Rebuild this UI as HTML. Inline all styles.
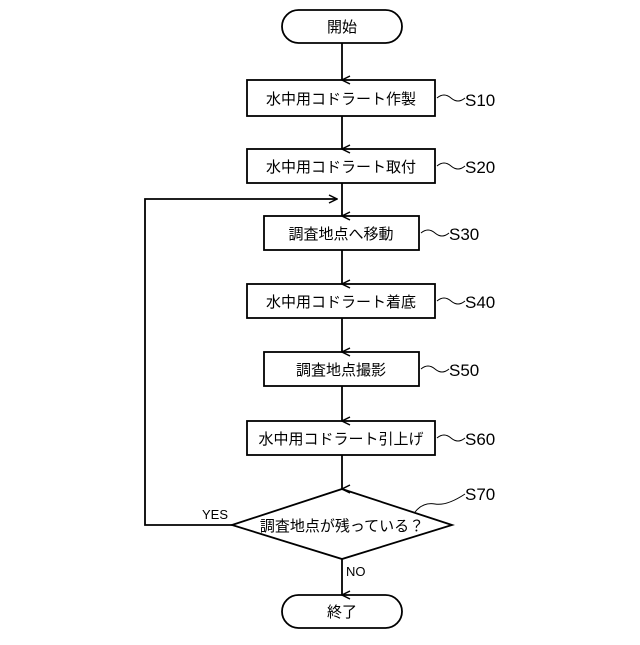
<!DOCTYPE html>
<html><head><meta charset="utf-8"><style>
html,body{margin:0;padding:0;background:#fff;}
svg text{font-family:"Liberation Sans","Noto Sans CJK JP",sans-serif;fill:#000;}
</style></head><body>
<svg width="640" height="640" viewBox="0 0 640 640" xmlns="http://www.w3.org/2000/svg">
<defs><marker id="a" markerWidth="10" markerHeight="10" refX="5" refY="9" orient="auto" markerUnits="userSpaceOnUse">
<path d="M1,1 L5,9 L9,1" fill="none" stroke="#000" stroke-width="1.5"/></marker>
<marker id="b" markerWidth="10" markerHeight="10" refX="9" refY="5" orient="auto-start-reverse" markerUnits="userSpaceOnUse">
<path d="M1,1 L9,5 L1,9" fill="none" stroke="#000" stroke-width="1.5"/></marker></defs>
<g stroke="#000" stroke-width="1.8" fill="none">
<rect x="282" y="10" width="120" height="33" rx="16.5"/>
<rect x="247" y="80" width="188" height="36"/>
<rect x="247" y="149" width="188" height="34"/>
<rect x="264" y="216" width="155" height="34"/>
<rect x="247" y="284" width="188" height="34"/>
<rect x="264" y="352" width="155" height="34"/>
<rect x="247" y="421" width="188" height="34"/>
<path d="M342,489 L452,525 L342,559 L232,525 Z"/>
<rect x="282" y="595" width="120" height="33" rx="16.5"/>
<g marker-end="url(#a)">
<line x1="342" y1="43" x2="342" y2="80"/>
<line x1="342" y1="116" x2="342" y2="149"/>
<line x1="342" y1="183" x2="342" y2="216"/>
<line x1="342" y1="250" x2="342" y2="284"/>
<line x1="342" y1="318" x2="342" y2="352"/>
<line x1="342" y1="386" x2="342" y2="421"/>
<line x1="342" y1="455" x2="342" y2="489"/>
<line x1="342" y1="559" x2="342" y2="595"/>
</g>
<polyline points="232,525 145,525 145,199 337,199" marker-end="url(#b)"/>
<g stroke-width="1">
<path d="M437,98 q7,-6 14,0 t14,0"/>
<path d="M437,166 q7,-6 14,0 t14,0"/>
<path d="M421,233 q7,-6 14,0 t14,0"/>
<path d="M437,301 q7,-6 14,0 t14,0"/>
<path d="M421,369 q7,-6 14,0 t14,0"/>
<path d="M437,438 q7,-6 14,0 t14,0"/>
<path d="M415,512 q8,-10 20,-8 t30,-10"/>
</g>
</g>
<g font-size="15" text-anchor="middle">
<text x="342" y="32">開始</text>
<text x="341" y="104">水中用コドラート作製</text>
<text x="341" y="172">水中用コドラート取付</text>
<text x="341" y="239">調査地点へ移動</text>
<text x="341" y="307">水中用コドラート着底</text>
<text x="341" y="375">調査地点撮影</text>
<text x="341" y="444">水中用コドラート引上げ</text>
<text x="342" y="531">調査地点が残っている？</text>
<text x="342" y="617">終了</text>
</g>
<g font-size="17">
<text x="465" y="106">S10</text>
<text x="465" y="173">S20</text>
<text x="449" y="240">S30</text>
<text x="465" y="308">S40</text>
<text x="449" y="376">S50</text>
<text x="465" y="445">S60</text>
<text x="465" y="500">S70</text>
</g>
<g font-size="13">
<text x="202" y="519">YES</text>
<text x="346" y="576">NO</text>
</g>
</svg>
</body></html>
